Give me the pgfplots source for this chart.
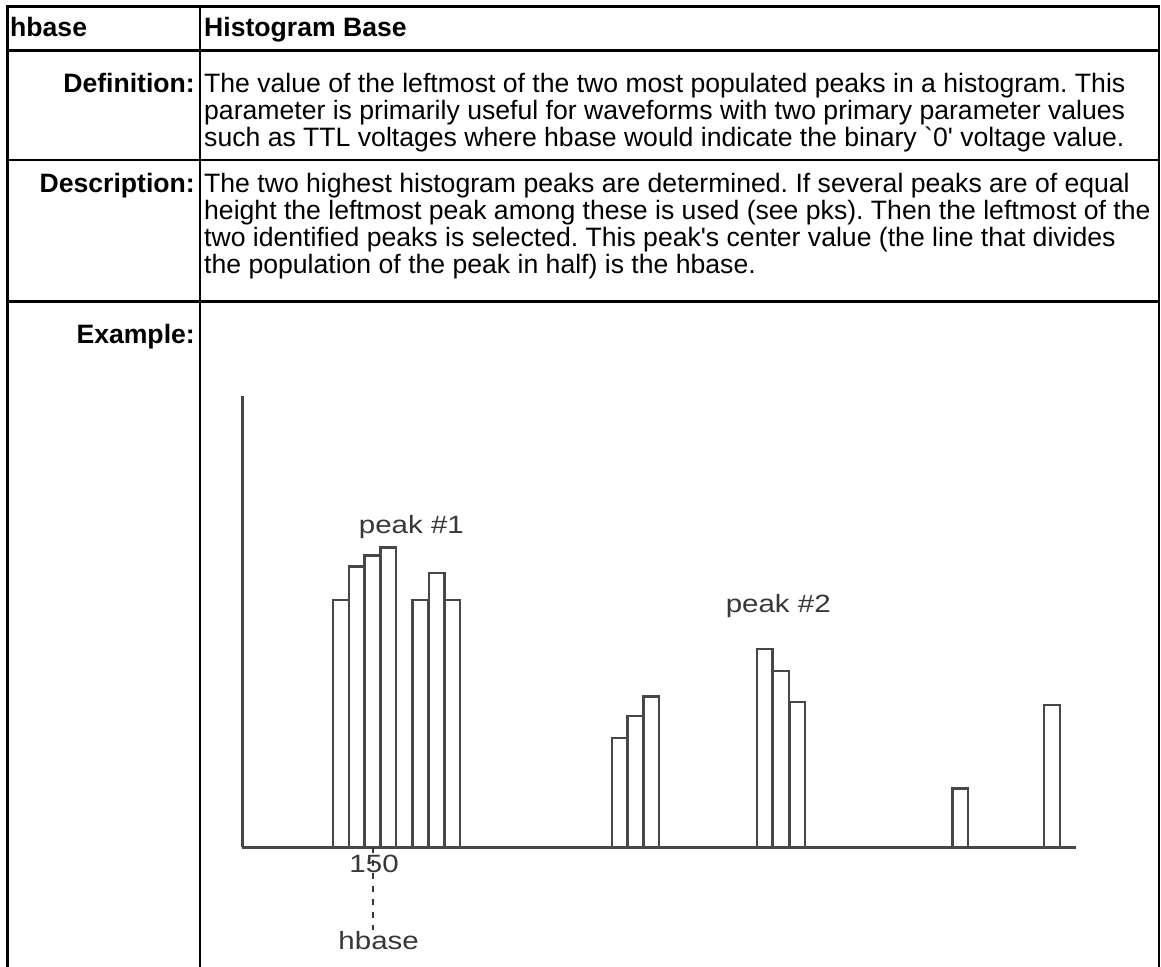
\documentclass[border=0pt]{standalone}
\usepackage{fontspec}
\setmainfont{Liberation Sans}[Ligatures=TeXOff]
\usepackage{pgfplots}
\pgfplotsset{compat=1.18}
\definecolor{hgray}{HTML}{474747}
\definecolor{htext}{HTML}{383838}
\newcommand{\hfont}{\fontsize{25}{30}\selectfont}
\newcommand{\hs}[1]{\scalebox{1.18}[1]{#1}}
\begin{document}
\frenchspacing
\fontsize{26.6}{27}\selectfont
\begin{tikzpicture}[x=1pt,y=1pt]
\useasboundingbox (0,0) rectangle (1161,966);
\fill[white] (0,0) rectangle (1161,966);
% table rules
\begin{scope}[line width=2.6pt, black]
\draw (6.0,959.3) -- (1160.3,959.3);
\draw (6.0,915.3) -- (1160.3,915.3);
\draw (6.0,806) -- (1160.3,806);
\draw (6.0,664.3) -- (1160.3,664.3);
\draw (7.3,960.6) -- (7.3,-5);
\draw (200,960.6) -- (200,-5);
\draw (1159,960.6) -- (1159,-5);
\end{scope}
% header
\node[anchor=base west, inner sep=0] at (10,929.3) {\bfseries hbase};
\node[anchor=base west, inner sep=0] at (204,929.3) {\bfseries Histogram Base};
% definition
\node[anchor=base east, inner sep=0] at (195,873.7) {\bfseries Definition:};
\node[anchor=base west, inner sep=0] at (204,873.7) {The value of the leftmost of the two most populated peaks in a histogram. This};
\node[anchor=base west, inner sep=0] at (204,846.7) {parameter is primarily useful for waveforms with two primary parameter values};
\node[anchor=base west, inner sep=0] at (204,819.5) {such as TTL voltages where hbase would indicate the binary `0' voltage value.};
% description
\node[anchor=base east, inner sep=0] at (195,773.3) {\bfseries Description:};
\node[anchor=base west, inner sep=0] at (204,773.3) {The two highest histogram peaks are determined. If several peaks are of equal};
\node[anchor=base west, inner sep=0] at (204,746.2) {height the leftmost peak among these is used (see pks). Then the leftmost of the};
\node[anchor=base west, inner sep=0] at (204,719.1) {two identified peaks is selected. This peak's center value (the line that divides};
\node[anchor=base west, inner sep=0] at (204,692) {the population of the peak in half) is the hbase.};
% example
\node[anchor=base east, inner sep=0] at (195,622.7) {\bfseries Example:};
\begin{axis}[
  at={(242.3pt,118.7pt)}, anchor=south west,
  scale only axis, x=15.8pt, y=10pt,
  xmin=141.76, xmax=194.53, ymin=0, ymax=45.13,
  axis lines=left,
  axis line style={-, draw=hgray, line width=2.4pt},
  xtick=\empty, ytick=\empty,
  clip=false,
]
\addplot[ybar, bar width=1, draw=hgray, line width=2.4pt, fill=white] coordinates {
  (148,24.73) (149,28.06) (150,29.16) (151,29.96)
  (153.04,24.73) (154.06,27.40) (155.04,24.73)
  (165.65,10.90) (166.65,13.10) (167.65,15.06)
  (174.82,19.83) (175.85,17.63) (176.89,14.50)
  (187.20,5.86) (193.00,14.23)
};
\node[anchor=base, font=\hfont, text=htext, inner sep=0] at (axis cs:152.46,31.33) {\hs{peak \#1}};
\node[anchor=base, font=\hfont, text=htext, inner sep=0] at (axis cs:175.68,23.46) {\hs{peak \#2}};
\node[anchor=base, font=\hfont, text=htext, inner sep=0] at (axis cs:150.1,-2.54) {\hs{150}};
\draw[htext, line width=1.6pt, dash pattern=on 6pt off 7pt] (axis cs:150.05,0) -- (axis cs:150.05,-8.3);
\node[anchor=base, font=\hfont, text=htext, inner sep=0] at (axis cs:150.39,-10.2) {\hs{hbase}};
\end{axis}
\end{tikzpicture}
\end{document}
